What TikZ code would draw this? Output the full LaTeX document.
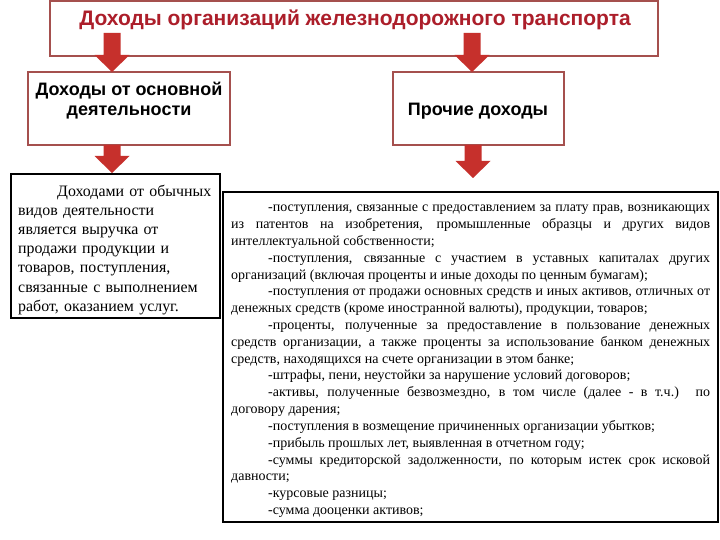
\documentclass[tikz,border=0pt]{standalone}
\usepackage{fontspec}
\setmainfont{Liberation Serif}
\setsansfont{Liberation Sans}
\usetikzlibrary{calc}
\definecolor{titlered}{RGB}{172,30,42}
\definecolor{boxborder}{RGB}{165,80,78}
\definecolor{arrowred}{RGB}{198,48,44}
\tikzset{
  redbox/.style={draw=boxborder, line width=1.6pt, fill=white, inner sep=0pt, outer sep=0pt, anchor=north west},
  blackbox/.style={draw=black, line width=#1, fill=white, inner sep=0pt, outer sep=0pt, anchor=north west},
  headtext/.style={font=\sffamily\bfseries\fontsize{18}{22}\selectfont, align=center, inner sep=0pt},
  fatarrow/.style={fill=arrowred},
}
\newcommand\blockarrow[2]{%
  \path[fatarrow] let \p1=(#1), \p2=(#2) in
    (\x1-8.5pt,\y1) -- (\x1+8.5pt,\y1) -- (\x1+8.5pt,\y2+17pt) -- (\x1+17.5pt,\y2+17pt)
    -- (\x1,\y2) -- (\x1-17.5pt,\y2+17pt) -- (\x1-8.5pt,\y2+17pt) -- cycle;}
\begin{document}
\begin{tikzpicture}[x=1pt,y=-1pt]
\useasboundingbox (0,0) rectangle (720,540);
\fill[white] (0,0) rectangle (720,540);

% top box
\node[redbox, minimum width=608pt, minimum height=55pt] (topbox) at (50,1) {};
\node[headtext, font=\sffamily\bfseries\fontsize{21}{24}\selectfont, text=titlered, anchor=base] (title) at (355,26)
  {Доходы организаций железнодорожного транспорта};

% second level boxes
\node[redbox, minimum width=202pt, minimum height=73pt] (main) at (28,72) {};
\node[headtext, anchor=base] (maintext) at (129,96) {Доходы от основной};
\node[headtext, anchor=base] (maintext2) at (129,116) {деятельности};

\node[redbox, minimum width=171pt, minimum height=73pt] (other) at (393,72) {};
\node[headtext, anchor=base] (othertext) at (478,116) {Прочие доходы};

% arrows from top box
\coordinate (a1) at (112,33);
\coordinate (a2) at (472,33);
\blockarrow{a1}{a1 |- main.north}
\blockarrow{a2}{a2 |- other.north}

% third level boxes
\node[blackbox=1.8pt, minimum width=209pt, minimum height=144pt] (ordinary) at (11,174) {};
\node[blackbox=2.4pt, minimum width=495pt, minimum height=330pt] (list) at (223,192) {};

\coordinate (a3) at (112,145);
\coordinate (a4) at (473,145);
\coordinate (t3) at (112,173);
\coordinate (t4) at (473,178);
\blockarrow{a3}{t3}
\blockarrow{a4}{t4}

% left text
\node[anchor=north west, inner sep=0pt, text width=205pt, align=left,
      font=\fontsize{15.9}{19.2}\selectfont] (ordtext) at (18,181)
  {\rule{0pt}{15pt}\hspace*{39pt}Доходами от обычных\\
   видов деятельности\\
   является выручка от\\
   продажи продукции и\\
   товаров, поступления,\\
   связанные с выполнением\\
   работ, оказанием услуг.};

% right text
\node[anchor=north west, inner sep=0pt, text width=479pt, align=justify,
      font=\fontsize{14}{16.83}\selectfont] (listtext) at (231,198.5)
  {\parindent=0pt\hyphenpenalty=10000\exhyphenpenalty=10000
   \rule{0pt}{13pt}\hspace*{37pt}-поступления, связанные с предоставлением за плату прав, возникающих\linebreak
   из патентов на изобретения, промышленные образцы и других видов\linebreak
   интеллектуальной собственности;\par
   \hspace*{37pt}-поступления, связанные с участием в уставных капиталах других\linebreak
   организаций (включая проценты и иные доходы по ценным бумагам);\par
   \hspace*{37pt}-поступления от продажи основных средств и иных активов, отличных от\linebreak
   денежных средств (кроме иностранной валюты), продукции, товаров;\par
   \hspace*{37pt}-проценты, полученные за предоставление в пользование денежных\linebreak
   средств организации, а также проценты за использование банком денежных\linebreak
   средств, находящихся на счете организации в этом банке;\par
   \hspace*{37pt}-штрафы, пени, неустойки за нарушение условий договоров;\par
   \hspace*{37pt}-активы, полученные безвозмездно, в том числе (далее - в т.ч.) по\linebreak
   договору дарения;\par
   \hspace*{37pt}-поступления в возмещение причиненных организации убытков;\par
   \hspace*{37pt}-прибыль прошлых лет, выявленная в отчетном году;\par
   \hspace*{37pt}-суммы кредиторской задолженности, по которым истек срок исковой\linebreak
   давности;\par
   \hspace*{37pt}-курсовые разницы;\par
   \hspace*{37pt}-сумма дооценки активов;\par};
\end{tikzpicture}
\end{document}
